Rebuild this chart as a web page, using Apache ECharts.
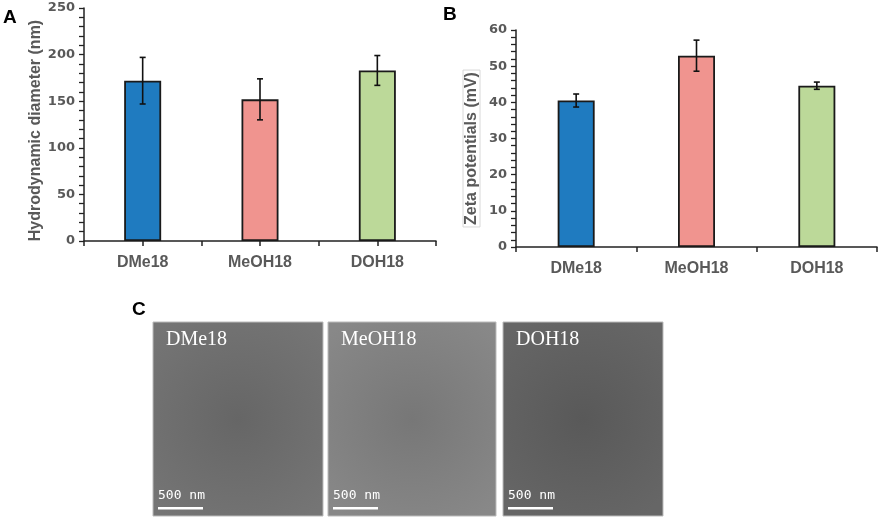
<!DOCTYPE html>
<html>
<head>
<meta charset="utf-8">
<script src="https://cdn.jsdelivr.net/npm/echarts@6/dist/echarts.min.js"></script>
<style>
  html, body { margin: 0; padding: 0; background: #fff; }
  #chart { width: 879px; height: 519px; }
</style>
</head>
<body>
<div id="chart"></div>
<script>
var categories = ['DMe18', 'MeOH18', 'DOH18'];
var diameterMean = [172, 152, 183];
var diameterErr = [25, 22, 16];
var zetaMean = [40.5, 52.9, 44.6];
var zetaErr = [1.8, 4.3, 1.0];
var yTicksA = { min: 0, max: 250, step: 50 };
var yTicksB = { min: 0, max: 60, step: 10 };

var barColors = ['#1f7bc0', '#f0948f', '#bcd999'];
var labelGrey = '#595959';

var myChart = echarts.init(document.getElementById('chart'));

// error bars drawn with a custom series
function errorBars(xAxisIndex, yAxisIndex, means, errs) {
    return {
        type: 'custom',
        xAxisIndex: xAxisIndex,
        yAxisIndex: yAxisIndex,
        z: 10,
        data: means.map(function (m, i) { return [i, m - errs[i], m + errs[i]]; }),
        renderItem: function (params, api) {
            var lo = api.coord([api.value(0), api.value(1)]);
            var hi = api.coord([api.value(0), api.value(2)]);
            var w = 3;
            var style = { stroke: '#111', lineWidth: 1.6 };
            return {
                type: 'group',
                children: [
                    { type: 'line', shape: { x1: lo[0], y1: lo[1], x2: hi[0], y2: hi[1] }, style: style },
                    { type: 'line', shape: { x1: lo[0] - w, y1: lo[1], x2: lo[0] + w, y2: lo[1] }, style: style },
                    { type: 'line', shape: { x1: hi[0] - w, y1: hi[1], x2: hi[0] + w, y2: hi[1] }, style: style }
                ]
            };
        }
    };
}

// shift pushes the rotated title down the axis by about shift/2 px
function yAxisCfg(gridIndex, ticks, name, gap, shift, boxed) {
    return {
        type: 'value',
        gridIndex: gridIndex,
        min: ticks.min,
        max: ticks.max,
        interval: ticks.step,
        name: '{t|' + name + '}',
        nameLocation: 'middle',
        nameGap: gap,
        nameTextStyle: {
            padding: [0, shift, 0, 0],
            rich: {
                t: {
                    fontFamily: 'Liberation Sans', fontWeight: 'bold', fontSize: 16, color: labelGrey,
                    borderColor: boxed ? '#d8d8d8' : 'transparent', borderWidth: boxed ? 1 : 0,
                    padding: boxed ? [1, 2, 0, 2] : 0
                }
            }
        },
        axisLine: { show: true, lineStyle: { color: '#222', width: 1.5 } },
        axisTick: { show: true, length: 5, lineStyle: { color: '#222', width: 1.3 } },
        minorTick: { show: true, splitNumber: 5, length: 5, lineStyle: { color: '#222', width: 1.3 } },
        splitLine: { show: false },
        axisLabel: { margin: 9, fontFamily: 'DejaVu Sans', fontWeight: 'bold', fontSize: 13, color: labelGrey }
    };
}

function xAxisCfg(gridIndex) {
    return {
        type: 'category',
        gridIndex: gridIndex,
        data: categories,
        axisLine: { show: true, lineStyle: { color: '#222', width: 1.5 } },
        axisTick: { show: true, length: 5, lineStyle: { color: '#222', width: 1.5 } },
        axisLabel: { margin: 14, fontFamily: 'Liberation Sans', fontWeight: 'bold', fontSize: 16, color: labelGrey }
    };
}

function barSeries(xAxisIndex, yAxisIndex, values) {
    return {
        type: 'bar',
        xAxisIndex: xAxisIndex,
        yAxisIndex: yAxisIndex,
        barWidth: 37,
        data: values.map(function (v, i) {
            return { value: v, itemStyle: { color: barColors[i] } };
        }),
        itemStyle: { borderColor: '#1a1a1a', borderWidth: 1.8 }
    };
}

// TEM panel placeholders (micrographs cannot be reproduced)
var temPanels = [
    { label: 'DMe18', x: 153, w: 170, fill: '#666666' },
    { label: 'MeOH18', x: 328, w: 168, fill: '#777777' },
    { label: 'DOH18', x: 503, w: 160, fill: '#595959' }
];
var graphics = [
    { type: 'text', left: 3, top: 8, style: { text: 'A', font: 'bold 19px "Liberation Sans"', fill: '#000' } },
    { type: 'text', left: 443, top: 5, style: { text: 'B', font: 'bold 19px "Liberation Sans"', fill: '#000' } },
    { type: 'text', left: 132, top: 300, style: { text: 'C', font: 'bold 19px "Liberation Sans"', fill: '#000' } }
];
temPanels.forEach(function (p) {
    graphics.push({
        type: 'rect', shape: { x: p.x, y: 322, width: p.w, height: 194 },
        style: {
            fill: new echarts.graphic.RadialGradient(0.5, 0.5, 0.7, [
                { offset: 0, color: p.fill }, { offset: 1, color: echarts.color.lift(p.fill, -0.15) }
            ]),
            stroke: '#bbb', lineWidth: 1
        }
    });
    graphics.push({ type: 'text', left: p.x + 13, top: 330,
        style: { text: p.label, font: '20px "Liberation Serif"', fill: '#fff' } });
    graphics.push({ type: 'text', left: p.x + 5, top: 489,
        style: { text: '500 nm', font: '13px "DejaVu Sans Mono"', fill: '#fff' } });
    graphics.push({ type: 'rect', shape: { x: p.x + 5, y: 507, width: 45, height: 2.5 }, style: { fill: '#fff' } });
});

var option = {
    animation: false,
    grid: [
        { left: 84, top: 8, width: 352, height: 233 },
        { left: 516, top: 30, width: 361, height: 217 }
    ],
    xAxis: [
        xAxisCfg(0),
        // extra ticks under the bar centres in panel A
        {
            type: 'category', gridIndex: 0, data: categories, position: 'bottom',
            axisLine: { show: false }, axisLabel: { show: false },
            axisTick: { show: true, alignWithLabel: true, length: 5, lineStyle: { color: '#222', width: 1.5 } }
        },
        xAxisCfg(1)
    ],
    yAxis: [
        yAxisCfg(0, yTicksA, 'Hydrodynamic diameter (nm)', 40, 12, false),
        yAxisCfg(1, yTicksB, 'Zeta potentials (mV)', 36, 20, true)
    ],
    series: [
        barSeries(0, 0, diameterMean),
        errorBars(0, 0, diameterMean, diameterErr),
        barSeries(2, 1, zetaMean),
        errorBars(2, 1, zetaMean, zetaErr)
    ],
    graphic: graphics
};

myChart.setOption(option);
</script>
</body>
</html>
